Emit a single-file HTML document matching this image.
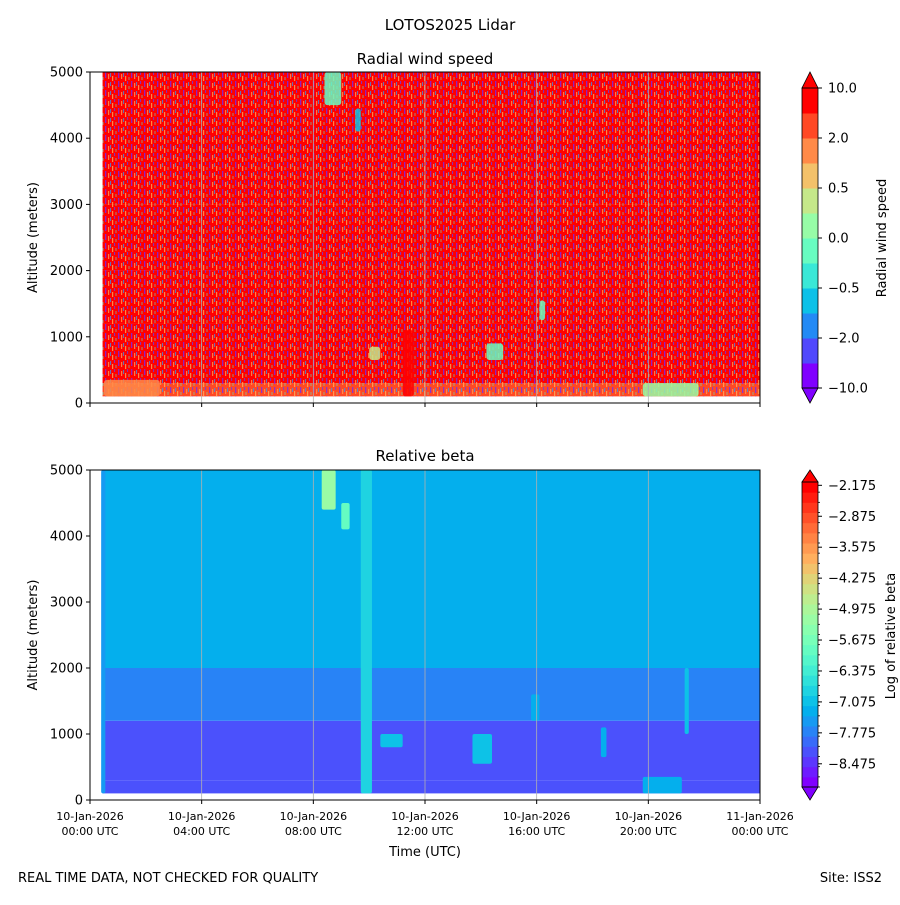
<!DOCTYPE html>
<html><head><meta charset="utf-8"><style>
body{margin:0;background:#fff;font-family:"Liberation Sans","DejaVu Sans",sans-serif}
svg text{font-family:"DejaVu Sans","Liberation Sans",sans-serif;fill:#000}
</style></head><body>
<svg id="fig" width="900" height="900" viewBox="0 0 900 900" xmlns="http://www.w3.org/2000/svg">
<defs>
<pattern id="speck" width="13" height="9" patternUnits="userSpaceOnUse">
<rect x="1" y="0" width="1.3" height="6" fill="#6a2cff" opacity="0.75"/>
<rect x="4" y="2" width="1.2" height="5" fill="#ff9a50" opacity="0.8"/>
<rect x="6" y="1" width="1.1" height="4" fill="#2a9cff" opacity="0.7"/>
<rect x="8" y="4" width="1.2" height="5" fill="#ffc060" opacity="0.7"/>
<rect x="10" y="0" width="1.1" height="3" fill="#5a40ff" opacity="0.7"/>
<rect x="11.5" y="5" width="1" height="3" fill="#60e8c0" opacity="0.6"/>
</pattern>
<clipPath id="clipTop"><rect x="90" y="72" width="670" height="331"/></clipPath>
<clipPath id="clipBot"><rect x="90" y="470" width="670" height="330"/></clipPath>
</defs>
<text x="450" y="30" text-anchor="middle" font-size="15">LOTOS2025 Lidar</text>
<text x="425" y="64" text-anchor="middle" font-size="15">Radial wind speed</text>
<text x="425" y="461" text-anchor="middle" font-size="15">Relative beta</text>
<g id="topPanel" clip-path="url(#clipTop)"></g>
<g id="botPanel" clip-path="url(#clipBot)"></g>
<g id="axes"></g>
<text x="18" y="882" font-size="13">REAL TIME DATA, NOT CHECKED FOR QUALITY</text>
<text x="882" y="882" text-anchor="end" font-size="13">Site: ISS2</text>
</svg>
<script>
// ---- data ----
const timeTicks=[0,4,8,12,16,20,24];
const timeTickDates=["10-Jan-2026","10-Jan-2026","10-Jan-2026","10-Jan-2026","10-Jan-2026","10-Jan-2026","11-Jan-2026"];
const timeTickTimes=["00:00 UTC","04:00 UTC","08:00 UTC","12:00 UTC","16:00 UTC","20:00 UTC","00:00 UTC"];
const altTicks=[0,1000,2000,3000,4000,5000];
const windBounds=[-10,-5,-2,-1,-0.5,-0.25,0,0.25,0.5,1,2,5,10];
const windTickLabels=["10.0","2.0","0.5","0.0","\u22120.5","\u22122.0","\u221210.0"];
const windTickValues=[10,2,0.5,0,-0.5,-2,-10];
const betaTicks=[-2.175,-2.875,-3.575,-4.275,-4.975,-5.675,-6.375,-7.075,-7.775,-8.475];
const layerAlt=[[100,300],[300,1200],[1200,2000],[2000,3000],[3000,5000]];
const betaLayer=[-8.25,-8.3,-7.75,-7.3,-7.2];
const windLayer=[3,6,8,8,8];
const betaFeatures=[[0.4,0.55,100,5000,-7.5],[9.7,10.1,100,5000,-6.9],[8.3,8.8,4400,5000,-5.3],[9.0,9.3,4100,4500,-5.8],[10.4,11.2,800,1000,-7.0],[13.7,14.4,550,1000,-7.1],[15.8,16.1,1200,1600,-7.3],[18.3,18.5,650,1100,-7.3],[19.8,21.2,100,350,-7.2],[21.3,21.45,1000,2000,-7.1]];
const windFeatures=[[11.2,11.6,100,1100,9],[8.4,9.0,4500,5000,-0.2],[9.5,9.7,4100,4450,-0.6],[14.2,14.8,650,900,-0.2],[16.1,16.3,1250,1550,-0.2],[19.8,21.8,100,300,0.2],[0.5,2.5,100,350,1.0],[10.0,10.4,650,850,0.3]];
// ---- scales ----
const X=t=>90+t*670/24;
const YT=a=>403-a*331/5000;
const YB=a=>800-a*330/5000;
function rainbow(x){x=Math.max(0,Math.min(1,x));const r=Math.min(1,Math.abs(2*x-0.5)),g=Math.sin(Math.PI*x),b=Math.cos(Math.PI*x/2);
return `rgb(${Math.round(r*255)},${Math.round(g*255)},${Math.round(b*255)})`;}
function windColor(v){let i=0;while(i<windBounds.length-2&&v>=windBounds[i+1])i++;return rainbow(i/11);}
const BMIN=-9.0,BMAX=-2.1;
function betaColor(v){const n=30;let k=Math.floor((v-BMIN)/(BMAX-BMIN)*n);k=Math.max(0,Math.min(n-1,k));return rainbow(k/(n-1));}
const NS="http://www.w3.org/2000/svg";
function el(tag,at,parent){const e=document.createElementNS(NS,tag);for(const k in at)e.setAttribute(k,at[k]);parent.appendChild(e);return e;}
const topG=document.getElementById('topPanel'),botG=document.getElementById('botPanel'),ax=document.getElementById('axes');
const t0=0.45;
layerAlt.forEach((L,i)=>{const r=el('rect',{x:X(t0),y:YT(L[1]),width:X(24)-X(t0),height:YT(L[0])-YT(L[1]),fill:windColor(windLayer[i])},topG);

});
const sp=el('rect',{x:X(t0),y:YT(5000),width:X(24)-X(t0),height:YT(100)-YT(5000),fill:'url(#speck)'},topG);


windFeatures.forEach(f=>{const r=el('rect',{x:X(f[0]),y:YT(f[3]),width:X(f[1])-X(f[0]),height:YT(f[2])-YT(f[3]),fill:windColor(f[4]),rx:3,opacity:0.85},topG);

});
layerAlt.forEach((L,i)=>{const r=el('rect',{x:X(t0),y:YB(L[1]),width:X(24)-X(t0),height:YB(L[0])-YB(L[1]),fill:betaColor(betaLayer[i])},botG);

});
betaFeatures.forEach(f=>{const r=el('rect',{x:X(f[0]),y:YB(f[3]),width:X(f[1])-X(f[0]),height:YB(f[2])-YB(f[3]),fill:betaColor(f[4]),rx:2},botG);

});
timeTicks.slice(1,-1).forEach(t=>{[[72,403],[470,800]].forEach(r=>{const g=el('line',{x1:X(t),x2:X(t),y1:r[0],y2:r[1],stroke:'#b0b0b0','stroke-width':0.8},ax);

});});
[[72,403],[470,800]].forEach((r,i)=>{const f=el('rect',{x:90,y:r[0],width:670,height:r[1]-r[0],fill:'none',stroke:'#000','stroke-width':1},ax);


altTicks.forEach(a=>{const y=i?YB(a):YT(a);el('line',{x1:86,x2:90,y1:y,y2:y,stroke:'#000'},ax);
const t=el('text',{x:83,y:y+4.5,'text-anchor':'end','font-size':13},ax);t.textContent=a;

});
timeTicks.forEach(t=>{el('line',{x1:X(t),x2:X(t),y1:r[1],y2:r[1]+4,stroke:'#000'},ax);});
const yl=el('text',{x:0,y:0,'text-anchor':'middle','font-size':13,transform:`translate(37,${(r[0]+r[1])/2}) rotate(-90)`},ax);yl.textContent='Altitude (meters)';

});
timeTicks.forEach((t,i)=>{const a=el('text',{x:X(t),y:820,'text-anchor':'middle','font-size':11},ax);a.textContent=timeTickDates[i];


const b=el('text',{x:X(t),y:835,'text-anchor':'middle','font-size':11},ax);b.textContent=timeTickTimes[i];

});
const xl=el('text',{x:425,y:856,'text-anchor':'middle','font-size':13},ax);xl.textContent='Time (UTC)';


const cx=802,cw=16;
for(let i=0;i<12;i++){const y=388-(i+1)*25;const r=el('rect',{x:cx,y:y,width:cw,height:25.5,fill:rainbow(i/11)},ax);

}
el('polygon',{points:`${cx},88 ${cx+cw},88 ${cx+cw/2},72`,fill:rainbow(1),stroke:'#000','stroke-width':0.8},ax);
el('polygon',{points:`${cx},388 ${cx+cw},388 ${cx+cw/2},403`,fill:rainbow(0),stroke:'#000','stroke-width':0.8},ax);
el('rect',{x:cx,y:88,width:cw,height:300,fill:'none',stroke:'#000','stroke-width':0.8},ax);
windTickValues.forEach((v,i)=>{const y=88+i*50;el('line',{x1:cx+cw,x2:cx+cw+4,y1:y,y2:y,stroke:'#000'},ax);
const t=el('text',{x:828,y:y+4.5,'font-size':13},ax);t.textContent=windTickLabels[i];

});
const wl=el('text',{x:0,y:0,'text-anchor':'middle','font-size':13,transform:'translate(886,238) rotate(-90)'},ax);wl.textContent='Radial wind speed';


const BY=v=>787-(v-BMIN)/(BMAX-BMIN)*305;
for(let k=0;k<30;k++){const v0=BMIN+k*(BMAX-BMIN)/30,v1=BMIN+(k+1)*(BMAX-BMIN)/30;
const r=el('rect',{x:cx,y:BY(v1),width:cw,height:BY(v0)-BY(v1)+0.5,fill:rainbow(k/29)},ax);


el('line',{x1:cx+cw,x2:cx+cw+2,y1:BY(v0),y2:BY(v0),stroke:'#000','stroke-width':0.8},ax);}
el('polygon',{points:`${cx},482 ${cx+cw},482 ${cx+cw/2},470`,fill:rainbow(1),stroke:'#000','stroke-width':0.8},ax);
el('polygon',{points:`${cx},787 ${cx+cw},787 ${cx+cw/2},800`,fill:rainbow(0),stroke:'#000','stroke-width':0.8},ax);
el('rect',{x:cx,y:482,width:cw,height:305,fill:'none',stroke:'#000','stroke-width':0.8},ax);
betaTicks.forEach(v=>{const y=BY(v);el('line',{x1:cx+cw,x2:cx+cw+4,y1:y,y2:y,stroke:'#000'},ax);
const t=el('text',{x:828,y:y+4.5,'font-size':13},ax);t.textContent='\u2212'+Math.abs(v).toFixed(3);

});
const bl=el('text',{x:0,y:0,'text-anchor':'middle','font-size':13,transform:'translate(895,636) rotate(-90)'},ax);bl.textContent='Log of relative beta';


</script>
</body></html>
